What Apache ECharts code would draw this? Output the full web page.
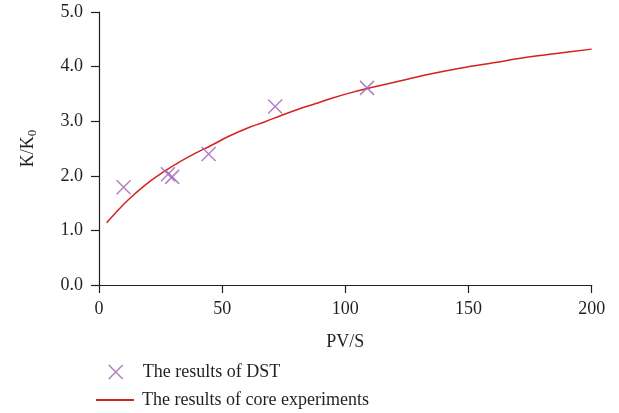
<!DOCTYPE html>
<html>
<head>
<meta charset="utf-8">
<script src="https://cdn.jsdelivr.net/npm/echarts@6/dist/echarts.min.js"></script>
<style>
html,body{margin:0;padding:0;background:#fff;}
#chart{width:619px;height:413px;}
</style>
</head>
<body>
<div id="chart"></div>
<script>
// DST scatter results
const dstX = [10, 28, 29.7, 44.5, 71.5, 108.8];
const dstY = [1.79, 2.03, 1.98, 2.40, 3.27, 3.61];
// Core experiments curve
const coreX = [3.1, 6.5, 11.9, 18.7, 25.4, 32.2, 39.0, 45.7, 52.5, 60.6, 67.4, 74.2, 80.9, 87.7, 94.5, 101.2, 108.0, 119.5, 133.0, 146.5, 160.1, 173.6, 187.1, 200];
const coreY = [1.14, 1.31, 1.56, 1.83, 2.05, 2.24, 2.41, 2.56, 2.72, 2.88, 2.99, 3.11, 3.22, 3.32, 3.42, 3.51, 3.59, 3.71, 3.85, 3.97, 4.07, 4.17, 4.25, 4.32];
const xTicks = [0, 50, 100, 150, 200];
const yTicks = [0, 1, 2, 3, 4, 5];
const seriesNames = ['The results of DST', 'The results of core experiments'];

const FONT = 'Liberation Serif';
const TXT = '#231f20';
const PURPLE = '#9d62b5';
const RED = '#d4221e';
const cross = 'path://M0,0L10,10M10,0L0,10';

const chart = echarts.init(document.getElementById('chart'));
chart.setOption({
  animation: false,
  backgroundColor: '#fff',
  textStyle: { fontFamily: FONT, color: TXT },
  grid: { left: 99, right: 27.3, top: 12, bottom: 128, containLabel: false },
  xAxis: {
    type: 'value',
    min: xTicks[0], max: xTicks[xTicks.length - 1], interval: 50,
    name: 'PV/S', nameLocation: 'middle', nameGap: 48,
    nameTextStyle: { fontFamily: FONT, fontSize: 18, color: TXT },
    axisLine: { show: true, onZero: false, lineStyle: { color: '#231f20', width: 1.2 } },
    axisTick: { show: true, inside: false, length: 8, lineStyle: { color: '#231f20', width: 1.2 } },
    axisLabel: { fontFamily: FONT, fontSize: 18, color: TXT, margin: 15 },
    splitLine: { show: false }
  },
  yAxis: {
    type: 'value',
    min: yTicks[0], max: yTicks[yTicks.length - 1], interval: 1,
    name: '{a|K/K}{s|0}', nameLocation: 'middle', nameGap: 60, nameRotate: 90,
    nameTextStyle: {
      fontFamily: FONT, fontSize: 18, color: TXT,
      rich: {
        a: { fontFamily: FONT, fontSize: 18, color: TXT },
        s: { fontFamily: FONT, fontSize: 13, color: TXT, verticalAlign: 'bottom', padding: [8, 0, 0, 0] }
      }
    },
    axisLine: { show: true, onZero: false, lineStyle: { color: '#231f20', width: 1.2 } },
    axisTick: { show: true, inside: false, length: 8, lineStyle: { color: '#231f20', width: 1.2 } },
    axisLabel: { fontFamily: FONT, fontSize: 18, color: TXT, margin: 16, formatter: v => v.toFixed(1) },
    splitLine: { show: false }
  },
  legend: [
    {
      left: 103, top: 358,
      itemWidth: 38, itemHeight: 14, itemGap: 0,
      textStyle: { fontFamily: FONT, fontSize: 18, color: TXT, padding: [0, 0, 0, 3] },
      data: [
        { name: seriesNames[0], icon: cross, itemStyle: { color: 'transparent', borderColor: PURPLE, borderWidth: 1.5 } }
      ]
    },
    {
      left: 91, top: 386,
      itemWidth: 38, itemHeight: 2, itemGap: 0,
      textStyle: { fontFamily: FONT, fontSize: 18, color: TXT, padding: [0, 0, 0, 3] },
      data: [
        { name: seriesNames[1], icon: 'rect', itemStyle: { color: RED, borderWidth: 0 } }
      ]
    }
  ],
  series: [
    {
      name: seriesNames[0],
      type: 'scatter',
      symbol: cross,
      symbolSize: 14,
      itemStyle: { color: 'transparent', borderColor: PURPLE, borderWidth: 1.5 },
      data: dstX.map((x, i) => [x, dstY[i]]),
      z: 3
    },
    {
      name: seriesNames[1],
      type: 'line',
      smooth: 0.4,
      symbol: 'none',
      lineStyle: { color: RED, width: 1.5 },
      itemStyle: { color: RED },
      data: coreX.map((x, i) => [x, coreY[i]]),
      z: 2
    }
  ]
});
</script>
</body>
</html>
